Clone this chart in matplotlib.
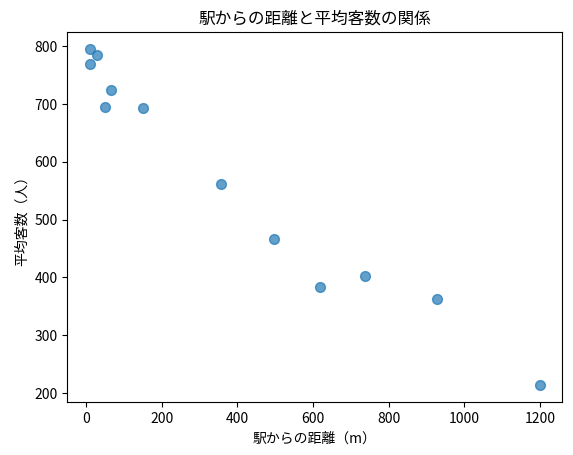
import matplotlib
matplotlib.use('Agg')
import matplotlib.pyplot as plt

plt.rcParams['font.family'] = ['Noto Sans CJK JP', 'DejaVu Sans']

# 駅からの距離 (m) と 平均客数 (人)
distance = [10, 29, 10, 65, 50, 150, 358, 498, 620, 738, 928, 1200]
customers = [795, 784, 770, 724, 694, 693, 561, 466, 384, 403, 362, 213]

fig, ax = plt.subplots(figsize=(5.73, 4.55), dpi=100)
fig.subplots_adjust(left=0.1175, right=0.9813, top=0.929, bottom=0.1158)

ax.scatter(distance, customers, s=50, alpha=0.7)
ax.set_title('駅からの距離と平均客数の関係')
ax.set_xlabel('駅からの距離（m）')
ax.set_ylabel('平均客数（人）')

fig.savefig('out.png', dpi=100)
